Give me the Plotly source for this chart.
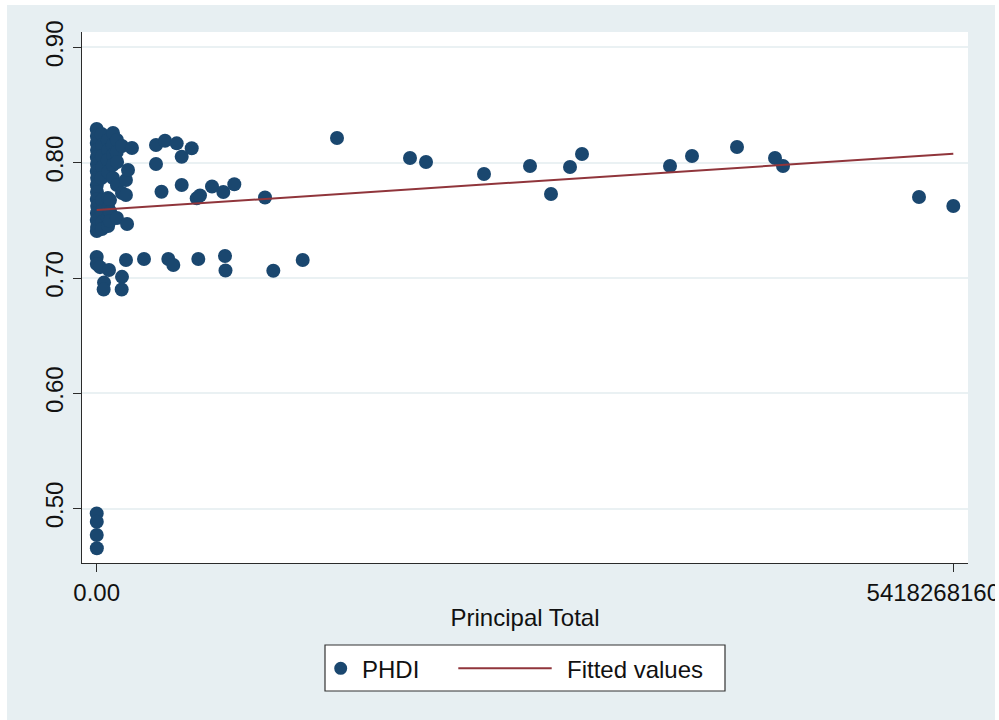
import plotly.graph_objects as go

# PHDI against principal total (x in raw currency units)
principal_total = [
    # dense column near zero
    0, 1.2e6, 0.4e6, 2.1e6, 0.8e6, 1.6e6, 0.3e6, 2.5e6, 0.9e6, 1.8e6, 0.5e6, 2.9e6, 1.1e6, 0.2e6, 2.3e6, 0.7e6,
    31e6, 35e6, 33e6, 36e6, 30e6, 34e6, 32e6, 35e6, 33e6,
    70e6, 73e6, 69e6, 72e6, 71e6, 74e6, 70e6, 72e6,
    103e6, 101e6, 104e6, 102e6, 103e6, 84e6, 86e6, 83e6,
    128e6, 127e6, 129e6, 128e6, 128e6,
    160e6, 160e6, 185e6, 185e6, 198e6, 223e6, 192e6,
    # lower group near zero
    0, 0.6e6, 20.9e6, 77.8e6, 185.3e6, 299.2e6, 46.2e6, 44e6, 160e6, 158e6,
    # mid range
    375.1e6, 432.0e6, 506.0e6, 537.7e6, 600.9e6, 375.1e6,
    409.9e6, 537.7e6, 632.5e6, 653.4e6, 729.3e6, 800.8e6, 870.4e6, 1064.5e6,
    452.9e6, 484.5e6, 642.6e6, 811.5e6, 814.7e6, 1117.1e6, 1303.0e6,
    # upper range
    1520.0e6, 1981.7e6, 2083.0e6, 2449.8e6, 2740.8e6, 2873.6e6, 2993.8e6, 3069.7e6,
    3626.3e6, 3765.4e6, 4050.1e6, 4290.5e6, 4341.1e6, 5201.3e6, 5418268160,
    # low PHDI outliers
    0, 0.5e6, 0.2e6, 0.9e6,
]

phdi = [
    0.8292, 0.8231, 0.8171, 0.8110, 0.8050, 0.7989, 0.7928, 0.7867, 0.7807, 0.7746, 0.7685, 0.7624, 0.7564, 0.7503, 0.7442, 0.7408,
    0.8249, 0.8154, 0.8058, 0.7963, 0.7867, 0.7677, 0.7581, 0.7486, 0.7425,
    0.8197, 0.8110, 0.8023, 0.7919, 0.7694, 0.7607, 0.7520, 0.7451,
    0.8258, 0.8154, 0.8067, 0.7980, 0.7867, 0.7677, 0.7572, 0.7494,
    0.8197, 0.8093, 0.8006, 0.7807, 0.7520,
    0.8145, 0.7737, 0.7850, 0.7720, 0.7937, 0.8127, 0.7468,
    0.7182, 0.7121, 0.7094, 0.7069, 0.7156, 0.7165, 0.6960, 0.6900, 0.7010, 0.6900,
    0.8154, 0.8191, 0.8168, 0.8052, 0.8125, 0.7989,
    0.7748, 0.7807, 0.7691, 0.7716, 0.7794, 0.7746, 0.7813, 0.7698,
    0.7165, 0.7113, 0.7165, 0.7191, 0.7065, 0.7063, 0.7156,
    0.8214, 0.8041, 0.8006, 0.7902, 0.7971, 0.7729, 0.7963, 0.8075,
    0.7971, 0.8058, 0.8136, 0.8041, 0.7971, 0.7702, 0.7624,
    0.4958, 0.4886, 0.4771, 0.4656,
]

# linear fit endpoints (fitted values at min and max principal total)
fit_x = [0, 5418268160]
fit_y = [0.7590, 0.8078]

x_tickvals = [0, 5418268160]
x_ticktext = ["0.00", "5418268160" + "\u00a0" * 6]
y_tickvals = [0.5, 0.6, 0.7, 0.8, 0.9]
y_ticktext = ["0.50", "0.60", "0.70", "0.80", "0.90"]

NAVY = "#1a476f"
MAROON = "#90353b"
BG = "#e7eff2"
FONT = "Liberation Sans, Arial, Helvetica, sans-serif"

W, H = 999, 720
L, R, T, B = 82, 31, 32, 157
PW, PH = W - L - R, H - T - B


def px(x):
    return (x - L) / PW


def py(y):
    return (H - B - y) / PH


fig = go.Figure()
fig.add_trace(go.Scatter(
    x=principal_total, y=phdi, mode="markers", name="PHDI",
    marker=dict(color=NAVY, size=14, line=dict(width=0)),
    showlegend=False,
))
fig.add_trace(go.Scatter(
    x=fit_x, y=fit_y, mode="lines", name="Fitted values",
    line=dict(color=MAROON, width=2),
    showlegend=False,
))

axis_common = dict(
    showline=True, linecolor="#2b2b2b", linewidth=1.3,
    ticks="outside", ticklen=8, tickwidth=1.3, tickcolor="#2b2b2b",
    tickfont=dict(size=24, color="#111", family=FONT),
    zeroline=False, mirror=False,
)

fig.update_xaxes(
    range=[-93.0e6, 5511.2e6],
    tickmode="array", tickvals=x_tickvals, ticktext=x_ticktext,
    ticklabeloverflow="allow",
    showgrid=False,
    title=dict(text="Principal Total", font=dict(size=24, color="#111", family=FONT), standoff=4),
    automargin=False,
    **axis_common,
)
fig.update_yaxes(
    range=[0.45282, 0.91336],
    tickmode="array", tickvals=y_tickvals, ticktext=y_ticktext,
    tickangle=-90,
    showgrid=True, gridcolor="#eaf1f3", gridwidth=1.5,
    automargin=False,
    **axis_common,
)

shapes = [
    # white border strips outside the tinted page area
    dict(type="rect", xref="paper", yref="paper", x0=px(0), x1=px(7), y0=py(H), y1=py(0),
         fillcolor="white", line=dict(width=0), layer="above"),
    dict(type="rect", xref="paper", yref="paper", x0=px(0), x1=px(W), y0=py(5), y1=py(0),
         fillcolor="white", line=dict(width=0), layer="above"),
    dict(type="rect", xref="paper", yref="paper", x0=px(995), x1=px(W + 5), y0=py(H), y1=py(0),
         fillcolor="white", line=dict(width=0), layer="above"),
    # legend box
    dict(type="rect", xref="paper", yref="paper", x0=px(325), x1=px(725), y0=py(691), y1=py(645),
         fillcolor="white", line=dict(color="#333", width=1.2), layer="above"),
    dict(type="circle", xref="paper", yref="paper", xsizemode="pixel", ysizemode="pixel",
         xanchor=px(340.7), yanchor=py(668.3), x0=-6.5, x1=6.5, y0=-6.5, y1=6.5,
         fillcolor=NAVY, line=dict(width=0), layer="above"),
    dict(type="line", xref="paper", yref="paper", x0=px(458.3), x1=px(551.7), y0=py(668.3), y1=py(668.3),
         line=dict(color=MAROON, width=2), layer="above"),
]

annotations = [
    dict(text="PHDI", xref="paper", yref="paper", x=px(360), y=py(669), xanchor="left", yanchor="middle",
         showarrow=False, font=dict(size=24, color="#111", family=FONT)),
    dict(text="Fitted values", xref="paper", yref="paper", x=px(565), y=py(669), xanchor="left", yanchor="middle",
         showarrow=False, font=dict(size=24, color="#111", family=FONT)),
]

fig.update_layout(
    width=W, height=H,
    margin=dict(l=L, r=R, t=T, b=B, pad=0),
    paper_bgcolor=BG, plot_bgcolor="white",
    font=dict(family=FONT, color="#111"),
    shapes=shapes, annotations=annotations,
    showlegend=False,
)

fig.write_html("out.html")
